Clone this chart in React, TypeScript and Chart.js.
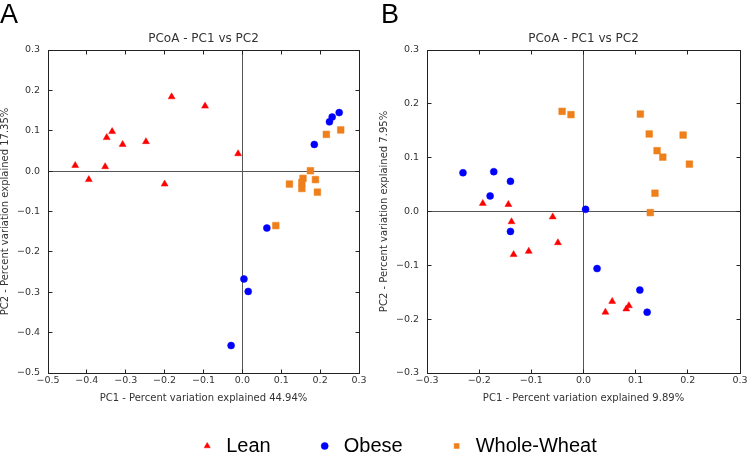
import React, { useEffect, useRef } from 'react';
import { Chart, registerables } from 'chart.js';

Chart.register(...registerables);

// ---------- data ----------
const seriesNames = ['Lean', 'Obese', 'Whole-Wheat'];

// Panel A
const leanAX = [-0.43, -0.395, -0.353, -0.349, -0.335, -0.308, -0.248, -0.2, -0.182, -0.096, -0.011];
const leanAY = [0.014, -0.021, 0.011, 0.083, 0.098, 0.066, 0.073, -0.032, 0.184, 0.161, 0.043];
const obeseAX = [0.185, 0.224, 0.231, 0.249, 0.063, 0.004, 0.015, -0.029];
const obeseAY = [0.066, 0.122, 0.134, 0.145, -0.141, -0.267, -0.298, -0.432];
const wheatAX = [0.216, 0.253, 0.175, 0.121, 0.156, 0.153, 0.153, 0.188, 0.193, 0.086];
const wheatAY = [0.091, 0.102, 0.001, -0.032, -0.018, -0.028, -0.043, -0.021, -0.052, -0.135];

// Panel B
const leanBX = [-0.193, -0.144, -0.138, -0.059, -0.049, -0.105, -0.134, 0.055, 0.042, 0.087, 0.082];
const leanBY = [0.015, 0.013, -0.019, -0.01, -0.058, -0.074, -0.08, -0.167, -0.187, -0.175, -0.181];
const obeseBX = [-0.231, -0.172, -0.14, -0.179, -0.14, 0.004, 0.026, 0.108, 0.122];
const obeseBY = [0.072, 0.074, 0.056, 0.029, -0.037, 0.004, -0.106, -0.146, -0.187];
const wheatBX = [-0.041, -0.024, 0.109, 0.126, 0.141, 0.152, 0.191, 0.203, 0.137, 0.128];
const wheatBY = [0.186, 0.18, 0.181, 0.144, 0.113, 0.101, 0.142, 0.088, 0.034, -0.002];

// ticks
const ticksAX = [-0.5, -0.4, -0.3, -0.2, -0.1, 0.0, 0.1, 0.2, 0.3];
const ticksAY = [-0.5, -0.4, -0.3, -0.2, -0.1, 0.0, 0.1, 0.2, 0.3];
const ticksBX = [-0.3, -0.2, -0.1, 0.0, 0.1, 0.2, 0.3];
const ticksBY = [-0.3, -0.2, -0.1, 0.0, 0.1, 0.2, 0.3];

// texts
const chartTitle = 'PCoA - PC1 vs PC2';
const xTitleA = 'PC1 - Percent variation explained 44.94%';
const yTitleA = 'PC2 - Percent variation explained 17.35%';
const xTitleB = 'PC1 - Percent variation explained 9.89%';
const yTitleB = 'PC2 - Percent variation explained 7.95%';
const panelLabels = ['A', 'B'];

// ---------- styles ----------
const RED = '#ff0000';
const BLUE = '#0000ff';
const ORANGE = '#ef7f1a';
const TEXT = '#333333';
const FRAME = '#222222';
const ZERO = '#555555';
const FONT = "'DejaVu Sans', sans-serif";
const LEGEND_FONT = "'Liberation Sans', Arial, sans-serif";
const TICK_LEN = 4;

const zip = (xs: number[], ys: number[]) => xs.map((x, i) => ({ x, y: ys[i] }));
const fmt = (v: number) => (v < -1e-9 ? '\u2212' : '') + Math.abs(v).toFixed(1);

function makeDatasets(lx: number[], ly: number[], ox: number[], oy: number[], wx: number[], wy: number[]) {
  return [
    {
      label: seriesNames[0], data: zip(lx, ly), pointStyle: 'triangle', pointRadius: 4, pointHoverRadius: 4,
      backgroundColor: RED, borderColor: RED, borderWidth: 0.5,
    },
    {
      label: seriesNames[1], data: zip(ox, oy), pointStyle: 'circle', pointRadius: 3.5, pointHoverRadius: 3.5,
      backgroundColor: BLUE, borderColor: BLUE, borderWidth: 0.5,
    },
    {
      label: seriesNames[2], data: zip(wx, wy), pointStyle: 'rect', pointRadius: 4.7, pointHoverRadius: 4.7,
      backgroundColor: ORANGE, borderColor: ORANGE, borderWidth: 0.5,
    },
  ];
}

const frameTicks = {
  id: 'frameTicks',
  afterDraw(chart: any) {
    const { ctx, chartArea } = chart;
    const al = (v: number) => Math.round(v - 0.5) + 0.5;
    const L = al(chartArea.left), R = al(chartArea.right), T = al(chartArea.top), B = al(chartArea.bottom);
    const xs = chart.scales.x, ys = chart.scales.y;
    ctx.save();
    ctx.strokeStyle = FRAME;
    ctx.lineWidth = 1;
    ctx.strokeRect(L, T, R - L, B - T);
    ctx.beginPath();
    for (const t of xs.ticks) {
      const p = al(xs.getPixelForValue(t.value));
      ctx.moveTo(p, B); ctx.lineTo(p, B - TICK_LEN);
      ctx.moveTo(p, T); ctx.lineTo(p, T + TICK_LEN);
    }
    for (const t of ys.ticks) {
      const p = al(ys.getPixelForValue(t.value));
      ctx.moveTo(L, p); ctx.lineTo(L + TICK_LEN, p);
      ctx.moveTo(R, p); ctx.lineTo(R - TICK_LEN, p);
    }
    ctx.stroke();
    ctx.restore();
  },
};

function axis(
  ticksArr: number[], title: string, horizontal: boolean, size: number,
  titlePad: { top: number; bottom: number },
) {
  return {
    type: 'linear',
    position: horizontal ? 'bottom' : 'left',
    min: ticksArr[0],
    max: ticksArr[ticksArr.length - 1],
    afterBuildTicks: (s: any) => { s.ticks = ticksArr.map((v) => ({ value: v })); },
    afterFit: (s: any) => { if (horizontal) s.height = size; else s.width = size; },
    grid: {
      drawTicks: false,
      drawOnChartArea: true,
      lineWidth: 1,
      color: (c: any) => (c.tick && Math.abs(c.tick.value) < 1e-9 ? ZERO : 'rgba(0,0,0,0)'),
    },
    border: { display: false },
    ticks: {
      autoSkip: false, maxRotation: 0, minRotation: 0,
      padding: horizontal ? 2 : 8,
      color: TEXT,
      font: { family: FONT, size: 9.5, lineHeight: 1.2 },
      callback: (v: any) => fmt(Number(v)),
    },
    title: {
      display: true, text: title, color: TEXT,
      font: { family: FONT, size: 10, lineHeight: 1.2 },
      padding: titlePad,
    },
  };
}

function titleOpts() {
  return {
    display: true, text: chartTitle, fullSize: false, color: TEXT,
    font: { family: FONT, size: 12, weight: 'normal', lineHeight: 1.2 },
    padding: { top: 31.3, bottom: 4.3 },
  };
}

export default function App() {
  const refA = useRef<HTMLCanvasElement | null>(null);
  const refB = useRef<HTMLCanvasElement | null>(null);

  useEffect(() => {
    Chart.defaults.font.family = FONT;
    const chartA = new Chart(refA.current as HTMLCanvasElement, {
      type: 'scatter',
      data: { datasets: makeDatasets(leanAX, leanAY, obeseAX, obeseAY, wheatAX, wheatAY) as any },
      options: {
        responsive: false, maintainAspectRatio: false, animation: false, events: [],
        layout: { padding: { left: 0, right: 15, top: 0, bottom: 0 } },
        scales: {
          x: axis(ticksAX, xTitleA, true, 32, { top: 0, bottom: 1 }) as any,
          y: axis(ticksAY, yTitleA, false, 48, { top: -0.5, bottom: 0 }) as any,
        },
        plugins: {
          legend: { display: false },
          tooltip: { enabled: false },
          title: titleOpts() as any,
        },
      },
      plugins: [frameTicks],
    });

    const chartB = new Chart(refB.current as HTMLCanvasElement, {
      type: 'scatter',
      data: { datasets: makeDatasets(leanBX, leanBY, obeseBX, obeseBY, wheatBX, wheatBY) as any },
      options: {
        responsive: false, maintainAspectRatio: false, animation: false, events: [],
        layout: { padding: { left: 55, right: 12, top: 0, bottom: 0 } },
        scales: {
          x: axis(ticksBX, xTitleB, true, 18, { top: 0, bottom: -13 }) as any,
          y: axis(ticksBY, yTitleB, false, 48, { top: -0.5, bottom: 0 }) as any,
          pad: {
            type: 'linear', axis: 'y', position: 'left', weight: 10, display: true,
            grid: { display: false }, border: { display: false }, ticks: { display: false },
            title: { display: false },
            afterFit: (s: any) => { s.width = 324; },
          } as any,
        },
        plugins: {
          tooltip: { enabled: false },
          title: titleOpts() as any,
          legend: {
            display: true, position: 'bottom', fullSize: true, align: 'center',
            labels: {
              usePointStyle: true, boxWidth: 18, boxHeight: 5, padding: 45, color: '#000',
              font: { family: LEGEND_FONT, size: 20 },
            },
          },
        },
      },
      plugins: [frameTicks],
    });

    return () => { chartA.destroy(); chartB.destroy(); };
  }, []);

  const labelStyle = (left: number): React.CSSProperties => ({
    position: 'absolute', left, top: 0.5, font: `27px ${LEGEND_FONT}`, lineHeight: '27px', color: '#000',
  });

  return (
    <div style={{ position: 'fixed', left: 0, top: 0, width: 747, height: 466, overflow: 'hidden', background: '#fff' }}>
      <canvas ref={refA} width={374} height={405} style={{ position: 'absolute', left: 0, top: 0 }} />
      <canvas ref={refB} width={752} height={466} style={{ position: 'absolute', left: 0, top: 0 }} />
      <div style={labelStyle(0)}>{panelLabels[0]}</div>
      <div style={labelStyle(381)}>{panelLabels[1]}</div>
    </div>
  );
}
